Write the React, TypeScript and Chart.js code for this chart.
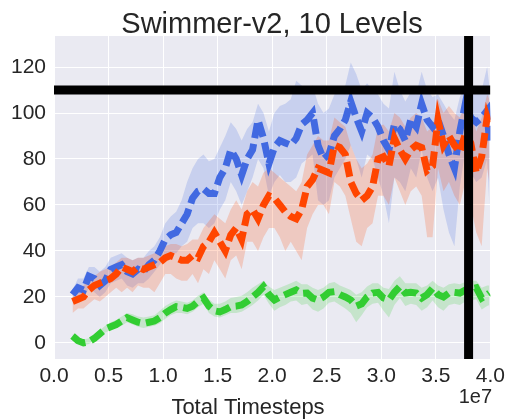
import React, { useEffect, useRef } from "react";
import { Chart, registerables } from "chart.js";

Chart.register(...registerables);

const TITLE = "Swimmer-v2, 10 Levels";
const X_LABEL = "Total Timesteps";
const X_EXPONENT = "1e7";

const X_TICKS = [0, 0.5, 1, 1.5, 2, 2.5, 3, 3.5, 4];
const Y_TICKS = [0, 20, 40, 60, 80, 100, 120];
const X_MIN = 0;
const X_MAX = 4;
const Y_MIN = -7;
const Y_MAX = 133.5;

const H_LINE_Y = 110;
const V_LINE_X = 3.8;

// timesteps in units of 1e7
const X = [
  0.17, 0.22, 0.27, 0.32, 0.37, 0.42, 0.47, 0.52, 0.57, 0.62,
  0.67, 0.72, 0.77, 0.82, 0.87, 0.92, 0.97, 1.02, 1.07, 1.12,
  1.17, 1.22, 1.27, 1.32, 1.37, 1.42, 1.47, 1.52, 1.57, 1.62,
  1.67, 1.72, 1.77, 1.82, 1.87, 1.92, 1.97, 2.02, 2.07, 2.12,
  2.17, 2.22, 2.27, 2.32, 2.37, 2.42, 2.47, 2.52, 2.57, 2.62,
  2.67, 2.72, 2.77, 2.82, 2.87, 2.92, 2.97, 3.02, 3.07, 3.12,
  3.17, 3.22, 3.27, 3.32, 3.37, 3.42, 3.47, 3.52, 3.57, 3.62,
  3.67, 3.72, 3.77, 3.82, 3.87, 3.92, 3.97, 3.99,
];

const BLUE_MEAN = [
  21, 24, 23, 29, 28, 25, 27, 32, 33, 34,
  31, 30, 32, 31, 34, 36, 40, 45, 47, 48,
  52, 56, 63, 66, 67, 65, 65, 72, 76, 84,
  80, 73, 80, 84, 97, 89, 78, 85, 88, 87,
  86, 89, 95, 97, 100, 86, 80, 82, 90, 93,
  97, 105, 98, 92, 100, 98, 94, 88, 84, 95,
  93, 88, 97, 94, 104, 97, 94, 97, 90, 82,
  76, 92, 104, 98, 96, 98, 101, 88,
];
const BLUE_UPPER = [
  23, 28, 28, 33, 33, 31, 33, 37, 38, 39,
  37, 36, 37, 37, 40, 42, 46, 52, 55, 57,
  62, 70, 76, 80, 82, 79, 80, 85, 90, 96,
  93, 88, 93, 96, 104, 100, 92, 100, 103, 104,
  106, 114, 112, 110, 112, 104, 100, 102, 108, 110,
  112, 122, 117, 110, 113, 110, 108, 104, 102, 118,
  110, 105, 109, 108, 118, 110, 107, 108, 104, 100,
  97, 107, 112, 110, 108, 110, 120, 112,
];
const BLUE_LOWER = [
  18, 20, 19, 24, 22, 20, 22, 26, 27, 28,
  25, 24, 26, 26, 28, 31, 34, 38, 39, 39,
  42, 44, 50, 52, 52, 50, 52, 58, 62, 70,
  66, 60, 66, 72, 80, 76, 64, 70, 73, 70,
  70, 72, 78, 80, 82, 62, 60, 62, 72, 76,
  80, 86, 80, 72, 82, 80, 72, 64, 52, 72,
  70, 66, 76, 72, 84, 72, 66, 72, 58, 48,
  42, 68, 84, 74, 70, 72, 80, 60,
];

const ORANGE_MEAN = [
  18, 19, 20, 23, 25, 26, 27, 28, 30, 33,
  32, 31, 33, 32, 33, 34, 35, 37, 38, 37,
  36, 36, 38, 37, 42, 44, 48, 44, 40, 47,
  50, 45, 56, 58, 54, 60, 64, 63, 60, 57,
  55, 54, 58, 68, 71, 76, 75, 74, 86, 85,
  82, 70, 65, 62, 64, 68, 80, 81, 77, 89,
  84, 80, 84, 86, 85, 75, 77, 97, 86, 90,
  86, 83, 91, 87, 74, 81, 98, 95,
];
const ORANGE_UPPER = [
  22, 23, 25, 28, 29, 31, 32, 33, 35, 37,
  37, 36, 37, 37, 38, 39, 40, 42, 43, 43,
  42, 43, 45, 45, 50, 53, 56, 54, 52, 58,
  62, 58, 66, 70, 68, 74, 76, 74, 72, 70,
  68, 66, 70, 82, 86, 90, 88, 88, 98, 96,
  94, 86, 80, 76, 78, 82, 94, 95, 92, 100,
  98, 94, 98, 100, 98, 92, 94, 106, 100, 103,
  100, 98, 104, 102, 92, 98, 108, 106,
];
const ORANGE_LOWER = [
  13, 15, 15, 17, 19, 18, 20, 22, 24, 22,
  24, 22, 25, 24, 24, 22, 26, 30, 30, 28,
  27, 27, 30, 26, 32, 30, 36, 32, 28, 36,
  38, 32, 44, 44, 40, 46, 50, 50, 46, 40,
  44, 40, 36, 50, 56, 60, 60, 56, 70, 68,
  64, 54, 44, 42, 50, 52, 64, 64, 60, 72,
  66, 60, 66, 68, 64, 46, 46, 76, 66, 70,
  64, 60, 70, 60, 48, 42, 76, 70,
];

const GREEN_MEAN = [
  3, 1, 0, 0.5, 2, 4, 6, 7, 8, 9.5,
  11, 10, 9, 8.5, 9, 9.5, 11, 13, 14.5, 15.8,
  15.5, 15, 16, 18, 19.5, 16, 14, 13.5, 14.5, 15.8,
  16, 16.5, 18, 20, 22, 24.5, 21, 18.7, 20, 21,
  22, 23, 21.5, 21.7, 19.5, 18.7, 20, 22, 22.3, 21,
  20, 18.7, 16, 17, 20, 21.7, 22, 19.5, 18.7, 22,
  24.5, 21.7, 22, 21.7, 19.5, 21, 23.8, 21, 20, 21.7,
  22, 21.7, 23, 23.5, 24, 19.5, 21, 21.7,
];
const GREEN_UPPER = [
  4, 2, 1.5, 2, 3.5, 5.5, 7.5, 9, 10, 11.5,
  13, 12.5, 11.5, 11, 11.5, 12, 14, 16, 17.5, 18.5,
  18, 17.5, 18.5, 20.5, 22, 19, 17, 17, 18, 19.5,
  20, 20.5, 22, 24, 25.5, 27, 24.5, 23, 24, 25,
  26, 27, 25.5, 25.5, 24, 23, 24, 26, 26.5, 25,
  24, 23, 21, 22, 24.5, 26, 26, 24, 23.5, 27,
  29, 26, 26, 26, 24, 25, 27, 25, 24, 25.5,
  26, 25.5, 26.5, 27, 27, 24, 25, 25,
];
const GREEN_LOWER = [
  2, 0, -1, -0.5, 1, 2.5, 4.5, 5.5, 6.5, 7.5,
  9, 8, 7, 6.5, 7, 7.5, 8.5, 10.5, 12, 13,
  13, 12.5, 13.5, 15.5, 17, 13, 11.5, 11, 12, 13,
  13, 13.5, 15, 16.5, 18.5, 21, 17, 14, 15.5, 16.5,
  18, 18.5, 16.5, 17, 14.5, 13.5, 15, 17.5, 18, 16.5,
  15, 13, 9, 12, 15.5, 17, 17.5, 14, 11, 16.5,
  19.5, 16, 17, 16.5, 14, 15.5, 18.5, 15.5, 14, 16.5,
  17, 16.5, 18, 18.5, 19, 14.5, 16, 16.5,
];

const BLUE = "#4169E1";
const ORANGE = "#FF4500";
const GREEN = "#32CD32";
const BLUE_BAND = "rgba(65,105,225,0.2)";
const ORANGE_BAND = "rgba(255,69,0,0.2)";
const GREEN_BAND = "rgba(50,205,50,0.2)";
const PLOT_BG = "#EAEAF2";
const TEXT = "#262626";
const FONT = '"Liberation Sans", Arial, sans-serif';

const pts = (ys: number[]) => X.map((x, i) => ({ x, y: ys[i] }));

const meanLine = (data: number[], color: string, order: number) => ({
  data: pts(data),
  borderColor: color,
  backgroundColor: color,
  borderWidth: 7,
  borderDash: [15, 6],
  pointRadius: 0,
  pointHoverRadius: 0,
  tension: 0,
  fill: false,
  order,
});

const bandEdge = (data: number[], color: string, fill: any, order: number) => ({
  data: pts(data),
  borderColor: "transparent",
  backgroundColor: color,
  borderWidth: 0,
  pointRadius: 0,
  pointHoverRadius: 0,
  tension: 0,
  fill,
  order,
});

const bgPlugin = {
  id: "plotBg",
  beforeDraw(chart: any) {
    const { ctx, chartArea } = chart;
    ctx.save();
    ctx.fillStyle = PLOT_BG;
    ctx.fillRect(chartArea.left, chartArea.top, chartArea.right - chartArea.left, chartArea.bottom - chartArea.top);
    ctx.restore();
  },
};

const textPlugin = {
  id: "texts",
  afterDraw(chart: any) {
    const { ctx } = chart;
    ctx.save();
    ctx.fillStyle = TEXT;
    ctx.textBaseline = "alphabetic";
    ctx.textAlign = "center";
    ctx.font = `29px ${FONT}`;
    ctx.fillText(TITLE, 272, 33);
    ctx.font = `22px ${FONT}`;
    ctx.fillText(X_LABEL, 248, 414);
    ctx.textAlign = "right";
    ctx.font = `20px ${FONT}`;
    ctx.fillText(X_EXPONENT, 492, 403);
    ctx.restore();
  },
};

export default function App() {
  const ref = useRef<HTMLCanvasElement | null>(null);

  useEffect(() => {
    if (!ref.current) return;
    const chart = new Chart(ref.current, {
      type: "line",
      data: {
        datasets: [
          {
            data: [{ x: X_MIN, y: H_LINE_Y }, { x: X_MAX, y: H_LINE_Y }],
            borderColor: "#000",
            borderWidth: 9,
            pointRadius: 0,
            fill: false,
            order: 0,
          } as any,
          {
            data: [{ x: V_LINE_X, y: Y_MIN }, { x: V_LINE_X, y: Y_MAX }],
            borderColor: "#000",
            borderWidth: 9,
            pointRadius: 0,
            fill: false,
            order: 0,
          },
          meanLine(ORANGE_MEAN, ORANGE, 1),
          meanLine(BLUE_MEAN, BLUE, 2),
          meanLine(GREEN_MEAN, GREEN, 3),
          bandEdge(BLUE_UPPER, BLUE_BAND, "+1", 6),
          bandEdge(BLUE_LOWER, BLUE_BAND, false, 6),
          bandEdge(ORANGE_UPPER, ORANGE_BAND, "+1", 5),
          bandEdge(ORANGE_LOWER, ORANGE_BAND, false, 5),
          bandEdge(GREEN_UPPER, GREEN_BAND, "+1", 4),
          bandEdge(GREEN_LOWER, GREEN_BAND, false, 4),
        ],
      },
      options: {
        animation: false,
        responsive: false,
        events: [],
        layout: { padding: { left: 0, right: 17, top: 36, bottom: 0 } },
        plugins: {
          legend: { display: false },
          tooltip: { enabled: false },
          title: { display: false },
        },
        scales: {
          x: {
            type: "linear",
            min: X_MIN,
            max: X_MAX,
            afterBuildTicks: (scale: any) => {
              scale.ticks = X_TICKS.map((v) => ({ value: v }));
            },
            afterFit: (scale: any) => {
              scale.height = 61;
            },
            grid: { color: "#FFFFFF", lineWidth: 1, drawTicks: false },
            border: { display: false },
            ticks: {
              color: TEXT,
              font: { family: FONT, size: 21 },
              padding: 5,
              maxRotation: 0,
              autoSkip: false,
              callback: (v: any) => Number(v).toFixed(1),
            },
          },
          y: {
            type: "linear",
            min: Y_MIN,
            max: Y_MAX,
            afterBuildTicks: (scale: any) => {
              scale.ticks = Y_TICKS.map((v) => ({ value: v }));
            },
            afterFit: (scale: any) => {
              scale.width = 54;
            },
            grid: { color: "#FFFFFF", lineWidth: 1, drawTicks: false },
            border: { display: false },
            ticks: {
              color: TEXT,
              font: { family: FONT, size: 21 },
              padding: 8,
              autoSkip: false,
              callback: (v: any) => String(v),
            },
          },
        },
      },
      plugins: [bgPlugin, textPlugin],
    });
    return () => chart.destroy();
  }, []);

  return (
    <div style={{ position: "fixed", left: 0, top: 0, width: 510, height: 420, background: "#fff" }}>
      <canvas ref={ref} width={510} height={420} style={{ width: 510, height: 420 }} />
    </div>
  );
}
